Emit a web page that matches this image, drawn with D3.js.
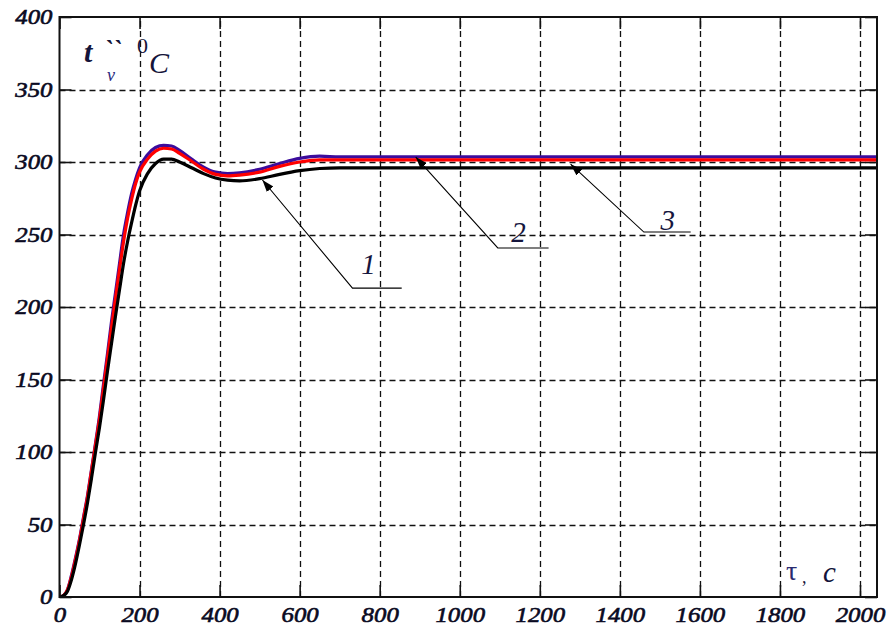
<!DOCTYPE html>
<html>
<head>
<meta charset="utf-8">
<script src="https://cdn.jsdelivr.net/npm/d3@7"></script>
<style>
  html, body { margin: 0; padding: 0; background: #fff; }
  svg { display: block; }
</style>
</head>
<body>
<svg id="chart" width="890" height="628"></svg>
<script>
// ---- data ----
const time = [0,10,20,30,40,50,60,70,80,90,100,110,120,130,140,150,160,170,180,190,200,
  220,240,260,280,300,330,360,390,420,450,500,550,600,650,700,800,1000,1500,2042];

const seriesBlue = [0,1,5,15,27,40,55,70,88,106,125,147,168,190,210,230,250,265,278,288,296,
  305,310,311.5,311,308,302,296.5,293,292,292.5,295,299,302.5,304,303.5,303.5,303.5,303.5,303.5];

const seriesRed = [0,1,5,14,26,39,54,69,87,105,123,144,165,186,206,226,245,261,274,285,293,
  302,307.5,309.5,309,306,300.5,295,291.5,290.5,291,293,297,300,301.5,301.5,301.5,301.5,301.5,301.5];

const seriesBlack = [0,1,4,12,23,36,50,65,82,100,117,136,156,175,194,212,230,245,258,270,280,
  292,299,302,302,300,296,292,289,287.5,287,288.5,291.5,294,295.5,296,296,296,296,296];

const xTickValues = [0,200,400,600,800,1000,1200,1400,1600,1800,2000];
const yTickValues = [0,50,100,150,200,250,300,350,400];

// annotation leaders: tip [t, value], elbow [t, value], end t, label position [t, baseline value]
const annoLabels = ["1","2","3"];
const annoTip   = [[507,287.6],[890,303.4],[1277,298.5]];
const annoElbow = [[732,213],[1095,240.7],[1460,251.7]];
const annoEnd   = [855,1222,1577];
const annoText  = [[772,223],[1147,245],[1520,253]];

// ---- layout ----
const svg = d3.select("#chart");
const x = d3.scaleLinear().domain([0, 2042.5]).range([59.5, 877]);
const y = d3.scaleLinear().domain([0, 400]).range([597, 17]);
const X0 = x.range()[0], X1 = x.range()[1], Y0 = y.range()[0], Y1 = y.range()[1];
const serif = "'Liberation Serif', 'Times New Roman', serif";

svg.append("rect").attr("width",890).attr("height",628).attr("fill","#fff");

// grid
const grid = svg.append("g").attr("stroke","#111").attr("stroke-width",1.3).attr("stroke-dasharray","6,4");
grid.selectAll("line.v").data(xTickValues.filter(d => d > 0)).join("line")
  .attr("x1", d => Math.round(x(d)) + 0.5).attr("x2", d => Math.round(x(d)) + 0.5)
  .attr("y1", Y0).attr("y2", Y1);
grid.selectAll("line.h").data(yTickValues.filter(d => d > 0 && d < 400)).join("line")
  .attr("x1", X0).attr("x2", X1)
  .attr("y1", d => Math.round(y(d)) + 0.5).attr("y2", d => Math.round(y(d)) + 0.5);

// axes (inward ticks)
const tickFont = g => {
  g.select(".domain").remove();
  g.selectAll(".tick line").attr("stroke","#111").attr("stroke-width",1.6);
  g.selectAll("text")
    .attr("fill","#0a0a22").attr("stroke","#0a0a22").attr("stroke-width",0.6)
    .attr("font-family",serif)
    .attr("font-style","italic").attr("font-weight","normal").attr("font-size",21)
    .attr("lengthAdjust","spacingAndGlyphs")
    .attr("textLength", function(){ return this.textContent.length * 12.4; });
};

svg.append("g").attr("transform",`translate(0,${Y0})`)
  .call(d3.axisBottom(x).tickValues(xTickValues).tickSize(-12).tickPadding(10).tickFormat(d3.format("d")))
  .call(tickFont);
svg.append("g").attr("transform",`translate(${X0},0)`)
  .call(d3.axisLeft(y).tickValues(yTickValues).tickSize(-12).tickPadding(7).tickFormat(d3.format("d")))
  .call(tickFont);
svg.append("g").attr("transform",`translate(0,${Y1})`)
  .call(d3.axisTop(x).tickValues(xTickValues).tickSize(-12).tickFormat(""))
  .call(tickFont);
svg.append("g").attr("transform",`translate(${X1},0)`)
  .call(d3.axisRight(y).tickValues(yTickValues).tickSize(-12).tickFormat(""))
  .call(tickFont);

// curves
svg.append("defs").append("clipPath").attr("id","plotclip")
  .append("rect").attr("x",X0).attr("y",Y1).attr("width",X1-X0).attr("height",Y0-Y1);

const line = vals => d3.line().x((d,i) => x(time[i])).y(d => y(d)).curve(d3.curveMonotoneX)(vals);
const curves = svg.append("g").attr("clip-path","url(#plotclip)").attr("fill","none")
  .attr("stroke-width",3.2).attr("stroke-linejoin","round");
curves.append("path").attr("d", line(seriesBlue)).attr("stroke","#3c0c9c");
curves.append("path").attr("d", line(seriesRed)).attr("stroke","#ff0000");
curves.append("path").attr("d", line(seriesBlack)).attr("stroke","#000");

// frame
svg.append("rect").attr("x",X0).attr("y",Y1).attr("width",X1-X0).attr("height",Y0-Y1)
  .attr("fill","none").attr("stroke","#111").attr("stroke-width",2);

// annotations
svg.append("defs").append("marker").attr("id","arrow")
  .attr("viewBox","0 0 10 10").attr("refX",10).attr("refY",5)
  .attr("markerWidth",12).attr("markerHeight",12).attr("markerUnits","userSpaceOnUse")
  .attr("orient","auto")
  .append("path").attr("d","M0,1.5 L10,5 L0,8.5 Z").attr("fill","#000");

const anno = svg.append("g");
annoLabels.forEach((lab, i) => {
  const pts = [[x(annoEnd[i]), y(annoElbow[i][1])], [x(annoElbow[i][0]), y(annoElbow[i][1])], [x(annoTip[i][0]), y(annoTip[i][1])]];
  anno.append("path").attr("d", d3.line()(pts)).attr("fill","none")
    .attr("stroke","#000").attr("stroke-width",1.1).attr("marker-end","url(#arrow)");
  anno.append("text").attr("x", x(annoText[i][0])).attr("y", y(annoText[i][1]))
    .attr("text-anchor","middle")
    .attr("font-family",serif)
    .attr("font-style","italic").attr("font-size",29).attr("fill","#16163e")
    .text(lab);
});

// axis titles
const t1 = svg.append("g").attr("fill","#14143a").attr("font-family",serif).attr("font-style","italic");
t1.append("text").attr("x",84).attr("y",62).attr("font-size",30).attr("font-weight","bold").text("t");
t1.append("text").attr("x",104).attr("y",58).attr("font-size",26).attr("font-weight","bold").text("``");
t1.append("text").attr("x",107).attr("y",81).attr("font-size",18).attr("fill","#2a2a80").text("v");
t1.append("text").attr("x",137).attr("y",53).attr("font-size",22).attr("font-style","normal").text("0");
t1.append("text").attr("x",149).attr("y",73).attr("font-size",30).text("C");

const t2 = svg.append("g").attr("fill","#14143a").attr("font-family",serif);
t2.append("text").attr("x",786).attr("y",580).attr("font-size",28).attr("fill","#2a2a70").text("τ");
t2.append("text").attr("x",802).attr("y",583).attr("font-size",18).text(",");
t2.append("text").attr("x",823).attr("y",582).attr("font-size",29).attr("font-style","italic").text("c");
</script>
</body>
</html>
